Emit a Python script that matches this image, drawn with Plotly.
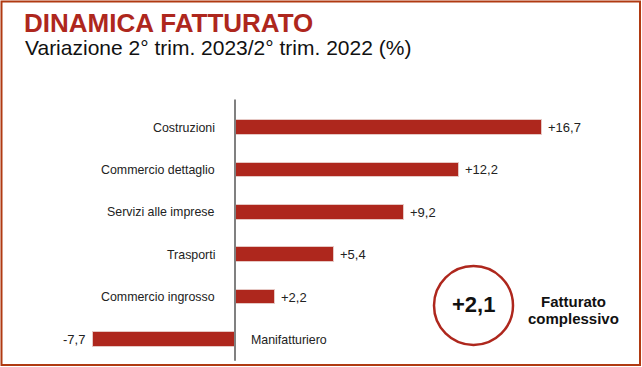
import plotly.graph_objects as go

categories = ["Costruzioni", "Commercio dettaglio", "Servizi alle imprese",
              "Trasporti", "Commercio ingrosso", "Manifatturiero"]
values = [16.7, 12.2, 9.2, 5.4, 2.2, -7.7]
total_value = 2.1
title_text = "DINAMICA FATTURATO"
subtitle_text = "Variazione 2° trim. 2023/2° trim. 2022 (%)"
total_label = ["Fatturato", "complessivo"]

W, H = 642, 367
RED = "#AE271D"
BORDER = "#B03A12"
FONT = "Liberation Sans, Arial, sans-serif"


def fmt(v):
    return f"{v:+.1f}".replace(".", ",")


fig = go.Figure()
fig.add_trace(go.Bar(
    y=categories, x=values, orientation="h",
    marker=dict(color=RED, line=dict(color="#E6C8C4", width=1)),
    width=0.34, hoverinfo="skip", showlegend=False,
))

annotations = []
for cat, v in zip(categories, values):
    annotations.append(dict(
        x=v, y=cat, xref="x", yref="y", text=fmt(v), showarrow=False,
        xanchor="left" if v >= 0 else "right", xshift=4 if v >= 0 else -6,
        font=dict(family=FONT, size=13, color="#222222")))
    annotations.append(dict(
        x=0, y=cat, xref="x", yref="y", text=cat, showarrow=False,
        xanchor="right" if v >= 0 else "left", xshift=-18 if v >= 0 else 14,
        font=dict(family=FONT, size=12.4, color="#222222")))

annotations += [
    dict(x=22 / W, y=1 - 23 / H, xref="paper", yref="paper", text=f"<b>{title_text}</b>",
         showarrow=False, xanchor="left", yanchor="middle",
         font=dict(family=FONT, size=26, color=RED)),
    dict(x=23 / W, y=1 - 48 / H, xref="paper", yref="paper", text=subtitle_text,
         showarrow=False, xanchor="left", yanchor="middle",
         font=dict(family=FONT, size=21, color="#111111")),
    dict(x=473.5 / W, y=1 - 304 / H, xref="paper", yref="paper", text=f"<b>{fmt(total_value)}</b>",
         showarrow=False, xanchor="center", yanchor="middle",
         font=dict(family=FONT, size=22, color="#111111")),
    dict(x=573.5 / W, y=1 - 301 / H, xref="paper", yref="paper", text=f"<b>{total_label[0]}</b>",
         showarrow=False, xanchor="center", yanchor="middle",
         font=dict(family=FONT, size=15, color="#111111")),
    dict(x=573.5 / W, y=1 - 318.5 / H, xref="paper", yref="paper", text=f"<b>{total_label[1]}</b>",
         showarrow=False, xanchor="center", yanchor="middle",
         font=dict(family=FONT, size=15, color="#111111")),
]

shapes = [
    dict(type="line", xref="x", yref="y", x0=0, x1=0, y0=-0.66, y1=5.5,
         line=dict(color="#808080", width=2)),
    dict(type="circle", xref="paper", yref="paper",
         x0=434 / W, x1=513 / W, y0=1 - 345 / H, y1=1 - 266 / H,
         line=dict(color=RED, width=2.5)),
    dict(type="rect", xref="paper", yref="paper",
         x0=1.5 / W, x1=640 / W, y0=1 - 365 / H, y1=1 - 1.5 / H,
         line=dict(color=BORDER, width=2)),
]

px_per_unit = 18.4
zero_px = 235
xmin = -zero_px / px_per_unit
xmax = (W - zero_px) / px_per_unit

row_px = 42.4
first_px = 127.5
ytop = -first_px / row_px
ybot = ytop + H / row_px

fig.update_layout(
    width=W, height=H, margin=dict(l=0, r=0, t=0, b=0),
    paper_bgcolor="white", plot_bgcolor="white",
    xaxis=dict(range=[xmin, xmax], visible=False, fixedrange=True),
    yaxis=dict(range=[ybot, ytop], visible=False, type="category",
               categoryorder="array", categoryarray=categories, fixedrange=True),
    annotations=annotations, shapes=shapes, bargap=0,
)

fig.write_html(
    "out.html",
    config={"displayModeBar": False},
    post_script="document.body.style.margin='0';document.body.style.overflow='hidden';",
)
